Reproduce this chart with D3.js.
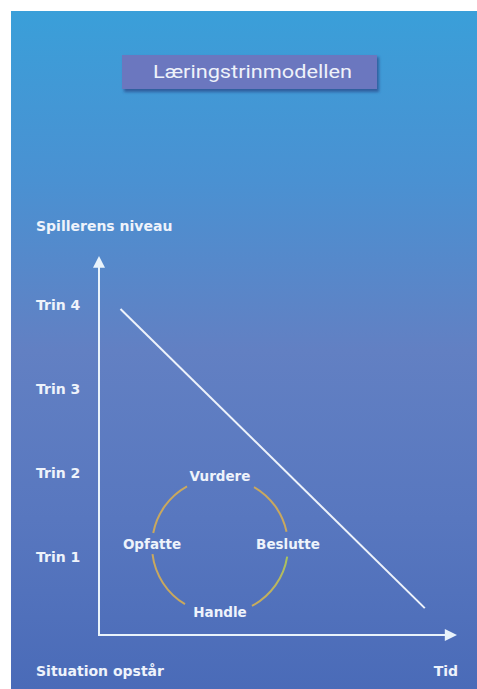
<!DOCTYPE html>
<html>
<head>
<meta charset="utf-8">
<script src="https://cdn.jsdelivr.net/npm/d3@7"></script>
<style>
  body { margin: 0; background: #fff; }
  .lbl { font-family: "DejaVu Sans", sans-serif; font-weight: bold; fill: #eef3fb; }
</style>
</head>
<body>
<div id="chart"></div>
<script>
'use strict';

// Data
const title = 'Læringstrinmodellen';
const levelLabels = ['Trin 1', 'Trin 2', 'Trin 3', 'Trin 4'];
const levelValues = [1, 2, 3, 4];
const yAxisTitle = 'Spillerens niveau';
const xStartLabel = 'Situation opstår';
const xEndLabel = 'Tid';
// progress line: time -> level
const lineTime = [0.6, 9.1];
const lineLevel = [3.95, 0.39];
// learning cycle
const stages = ['Vurdere', 'Beslutte', 'Handle', 'Opfatte'];
const stageAngles = [0, 90, 180, 270];
const cycleCenter = { t: 3.38, level: 1.13 };
const cycleRadius = 1.9; // in time units
const arcStart = [30, 99, 211, 281];
const arcEnd = [78, 152, 263, 331];

const W = 477, H = 689;
const svg = d3.select('#chart').append('svg')
  .attr('width', W).attr('height', H);

const defs = svg.append('defs');
const bg = defs.append('linearGradient').attr('id', 'bg')
  .attr('x1', 0).attr('y1', 0).attr('x2', 0).attr('y2', 1);
[[0, '#3a9fd9'], [0.25, '#4a91d2'], [0.5, '#6280c3'], [0.75, '#5877bf'], [1, '#4a6bb8']]
  .forEach(s => bg.append('stop').attr('offset', s[0]).attr('stop-color', s[1]));

const arcGrad = defs.append('linearGradient').attr('id', 'arcg')
  .attr('x1', 0).attr('y1', 0).attr('x2', 0).attr('y2', 1);
arcGrad.append('stop').attr('offset', 0).attr('stop-color', '#a8c45e');
arcGrad.append('stop').attr('offset', 1).attr('stop-color', '#c9aa5c');

const blur = defs.append('filter').attr('id', 'sh')
  .attr('x', '-10%').attr('y', '-20%').attr('width', '120%').attr('height', '160%');
blur.append('feGaussianBlur').attr('stdDeviation', 1.5);

svg.append('rect').attr('x', 11).attr('y', 11)
  .attr('width', W - 11).attr('height', H - 11).attr('fill', 'url(#bg)');

// Title box
svg.append('rect').attr('x', 124).attr('y', 57).attr('width', 255).attr('height', 35)
  .attr('fill', '#2c4f8f').attr('opacity', 0.8).attr('filter', 'url(#sh)');
svg.append('rect').attr('x', 122).attr('y', 55).attr('width', 255).attr('height', 34)
  .attr('fill', '#6b77bf');
svg.append('text').attr('x', 153).attr('y', 78)
  .attr('textLength', 199).attr('lengthAdjust', 'spacingAndGlyphs')
  .style('font-family', 'Roboto, sans-serif').style('font-size', '19px')
  .attr('fill', '#eef2fa').text(title);

// Scales
const x = d3.scaleLinear().domain([0, 10]).range([99, 457]);
const y = d3.scaleLinear().domain([0.07, 4.58]).range([635, 256]);

// Axis lines with arrowheads
const axisColor = '#e9f3fb';
const y0 = y.domain()[0], yTop = y.domain()[1];
svg.append('line').attr('x1', x(0)).attr('y1', y(y0)).attr('x2', x(0)).attr('y2', y(yTop - 0.1))
  .attr('stroke', axisColor).attr('stroke-width', 2);
svg.append('line').attr('x1', x(0) - 1).attr('y1', y(y0)).attr('x2', x(9.7)).attr('y2', y(y0))
  .attr('stroke', axisColor).attr('stroke-width', 2);
svg.append('path')
  .attr('d', `M${x(0)},${y(yTop)} L${x(0) + 6},${y(yTop - 0.14)} L${x(0) - 6},${y(yTop - 0.14)} Z`)
  .attr('fill', axisColor);
svg.append('path')
  .attr('d', `M${x(10)},${y(y0)} L${x(9.66)},${y(y0) - 6} L${x(9.66)},${y(y0) + 6} Z`)
  .attr('fill', axisColor);

// Level ticks
const yAxis = svg.append('g')
  .attr('transform', `translate(${x(0)},0)`)
  .call(d3.axisLeft(y).tickValues(levelValues)
    .tickFormat((d, i) => levelLabels[i]).tickSize(0));
yAxis.select('.domain').remove();
yAxis.selectAll('text')
  .attr('class', 'lbl')
  .attr('x', 36 - x(0)).attr('dy', '0.35em')
  .attr('text-anchor', 'start')
  .style('font-size', '14px');

// Axis titles
svg.append('text').attr('class', 'lbl').attr('x', 36).attr('y', 231)
  .style('font-size', '14px').text(yAxisTitle);
svg.append('text').attr('class', 'lbl').attr('x', 36).attr('y', 676)
  .style('font-size', '14px').text(xStartLabel);
svg.append('text').attr('class', 'lbl').attr('x', 458).attr('y', 676)
  .attr('text-anchor', 'end').style('font-size', '14px').text(xEndLabel);

// Progress line
const lineData = lineTime.map((t, i) => ({ t: t, level: lineLevel[i] }));
svg.append('path').datum(lineData)
  .attr('d', d3.line().x(d => x(d.t)).y(d => y(d.level)))
  .attr('stroke', '#eef3fb').attr('stroke-width', 2).attr('fill', 'none');

// Cycle
const cx = x(cycleCenter.t), cy = y(cycleCenter.level);
const r = x(cycleRadius) - x(0);
const rad = a => a * Math.PI / 180;
const arc = d3.arc().innerRadius(r - 1).outerRadius(r + 1);
const g = svg.append('g').attr('transform', `translate(${cx},${cy})`);
g.selectAll('path.seg').data(arcStart.map((s, i) => ({ s: s, e: arcEnd[i], i: i })))
  .enter().append('path')
  .attr('class', 'seg')
  .attr('d', d => arc({ startAngle: rad(d.s), endAngle: rad(d.e) }))
  .attr('fill', d => d.i === 1 ? 'url(#arcg)' : '#c9a85e');

g.selectAll('text').data(stages).enter().append('text')
  .attr('class', 'lbl')
  .attr('x', (d, i) => r * Math.sin(rad(stageAngles[i])))
  .attr('y', (d, i) => -r * Math.cos(rad(stageAngles[i])))
  .attr('dy', '0.2em')
  .attr('text-anchor', 'middle')
  .style('font-size', '13.5px')
  .text(d => d);
</script>
</body>
</html>
